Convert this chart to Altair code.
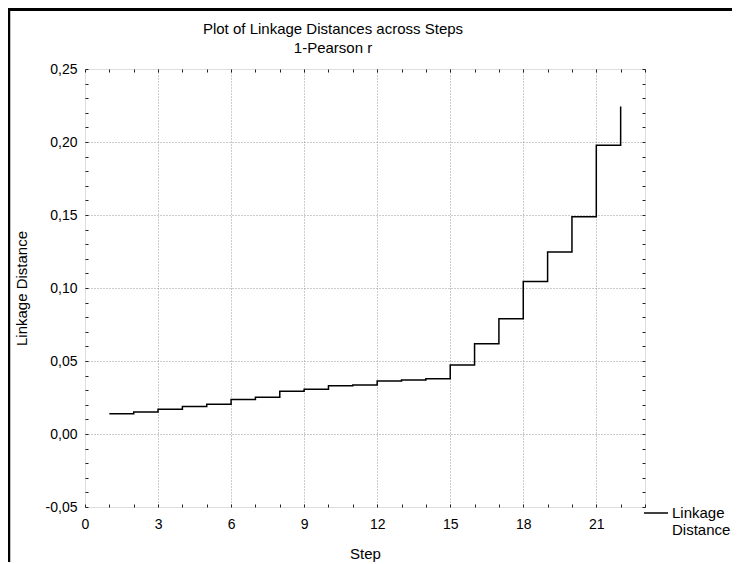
import altair as alt
import pandas as pd

steps = list(range(1, 23))
distances = [0.0139, 0.0151, 0.0169, 0.0189, 0.0203, 0.0237, 0.0251, 0.0292,
             0.0306, 0.0331, 0.0336, 0.0363, 0.0370, 0.0379, 0.0473, 0.0618,
             0.0790, 0.1045, 0.1247, 0.1488, 0.1977, 0.2244]
series_name = "Linkage Distance"
x_ticks = list(range(0, 24))
y_ticks = [round(-0.05 + 0.01 * i, 2) for i in range(31)]
title_lines = ["Plot of Linkage Distances across Steps", "1-Pearson r"]

df = pd.DataFrame({"Step": steps, "Dist": distances, "series": series_name})

FONT = "Liberation Sans"
W, H = 560, 438

xscale = alt.Scale(domain=[0, 23], nice=False, zero=False)
yscale = alt.Scale(domain=[-0.05, 0.25], nice=False, zero=False)

ylab = "replace(replace(format(datum.value, '.2f'), '.', ','), '\u2212', '-')"
ymajor = "abs(round(datum.value*100)) % 5 == 0"

x_axis = alt.Axis(
    values=x_ticks, labelExpr="datum.value % 3 == 0 ? datum.value : ''",
    title="Step", titleFontWeight="normal", titleFontSize=15, titleFont=FONT,
    titlePadding=15, labelFont=FONT, labelFontSize=14, labelColor="black",
    titleColor="black", labelPadding=10, tickSize=3, tickColor="#222",
    offset=-3, domain=False, labelFlush=False, labelOverlap=False,
    grid=True, gridColor="#999", gridDash=[1, 2],
    gridOpacity={"condition": {"test": "datum.value % 3 == 0 && datum.value > 0", "value": 1}, "value": 0},
)
y_axis = alt.Axis(
    values=y_ticks, labelExpr=f"{ymajor} ? {ylab} : ''",
    title="Linkage Distance", titleFontWeight="normal", titleFontSize=15,
    titleFont=FONT, titlePadding=16, labelFont=FONT, labelFontSize=14,
    labelColor="black", titleColor="black", labelPadding=8, tickSize=3,
    tickColor="#222", offset=-3, domain=False, labelFlush=False,
    labelOverlap=False, grid=True, gridColor="#999", gridDash=[1, 2],
    gridOpacity={"condition": {"test": f"{ymajor} && datum.value > -0.049 && datum.value < 0.249", "value": 1}, "value": 0},
)

line = alt.Chart(df).mark_line(interpolate="step-after", strokeWidth=1.5).encode(
    x=alt.X("Step:Q", scale=xscale, axis=x_axis),
    y=alt.Y("Dist:Q", scale=yscale, axis=y_axis),
    color=alt.Color("series:N", scale=alt.Scale(range=["black"]),
                    legend=alt.Legend(orient="none", legendX=558, legendY=431,
                                      title=None, symbolType="stroke",
                                      symbolStrokeColor="#555",
                                      symbolStrokeWidth=1.5, symbolSize=576,
                                      labelFont=FONT, labelFontSize=15,
                                      labelColor="black", labelOffset=3,
                                      labelExpr="['\u00a0Linkage', 'Distance']")),
)

mirror = alt.Chart(df).mark_line(opacity=0).encode(
    x=alt.X("Step:Q", scale=xscale,
            axis=alt.Axis(orient="top", values=x_ticks, labels=False, title=None,
                          tickSize=3, tickColor="#222", offset=-3, domain=False,
                          grid=False)),
    y=alt.Y("Dist:Q", scale=yscale,
            axis=alt.Axis(orient="right", values=y_ticks, labels=False, title=None,
                          tickSize=3, tickColor="#222", offset=-3, domain=False,
                          grid=False)),
)

one = pd.DataFrame({"a": [0]})
title1 = alt.Chart(one).mark_text(font=FONT, fontSize=15, color="black",
                                  align="center", baseline="alphabetic").encode(
    x=alt.value(248), y=alt.value(-35), text=alt.value(title_lines[0]))
title2 = alt.Chart(one).mark_text(font=FONT, fontSize=15, color="black",
                                  align="center", baseline="alphabetic").encode(
    x=alt.value(248), y=alt.value(-16), text=alt.value(title_lines[1]))

frame_top = alt.Chart(one).mark_rule(color="black", strokeWidth=3).encode(
    x=alt.value(-77), x2=alt.value(660), y=alt.value(-59.5))
frame_left = alt.Chart(one).mark_rule(color="black", strokeWidth=2.5).encode(
    x=alt.value(-76), y=alt.value(-61), y2=alt.value(500))

chart = alt.layer(line, mirror, title1, title2, frame_top, frame_left).resolve_axis(
    x="independent", y="independent"
).properties(
    width=W, height=H,
    autosize=alt.AutoSizeParams(type="none"),
    padding={"left": 77, "top": 61, "right": 87, "bottom": 55},
).configure_view(stroke="#333", strokeWidth=2).configure(background="white")

chart.save("out.html", embed_options={"renderer": "svg", "actions": False})
